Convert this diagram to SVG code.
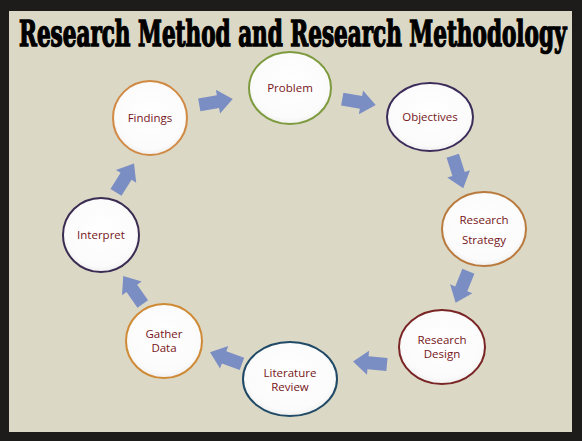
<svg xmlns="http://www.w3.org/2000/svg" xmlns:xlink="http://www.w3.org/1999/xlink" width="582" height="441" viewBox="0 0 582 441">
<defs>
<radialGradient id="fillG" cx="0.5" cy="0.45" r="0.55">
<stop offset="0" stop-color="#ffffff"/>
<stop offset="0.85" stop-color="#fcfbfb"/>
<stop offset="1" stop-color="#f1f0f0"/>
</radialGradient>
<path id="arr" d="M-17,-6.5 L2,-6.5 L2,-12 L17,0 L2,12 L2,6.5 L-17,6.5 Z"/>
<style>
.node ellipse{fill:url(#fillG);stroke-width:2}
.lbl{font-family:"Open Sans","DejaVu Sans",sans-serif;font-size:11.5px;fill:#761520;text-anchor:middle}
.arrows use{fill:#7b8ec3}
.title{font-family:"DejaVu Serif Condensed","DejaVu Serif",serif;font-weight:bold;font-size:25px;fill:#000;stroke:#000;stroke-width:1}
</style>
</defs>
<rect x="0" y="0" width="582" height="441" fill="#1e1c1a"/>
<rect x="9" y="11" width="563" height="421" fill="#dcd8c6"/>
<text class="title" transform="translate(19,46) scale(0.958,1.45)" x="0" y="0">Research Method and Research Methodology</text>
<g class="arrows" id="connectors">
<use xlink:href="#arr" transform="translate(216,102) rotate(-10)"/>
<use xlink:href="#arr" transform="translate(359,102) rotate(10)"/>
<use xlink:href="#arr" transform="translate(458,172) rotate(72)"/>
<use xlink:href="#arr" transform="translate(462,287) rotate(112)"/>
<use xlink:href="#arr" transform="translate(370,363) rotate(185)"/>
<use xlink:href="#arr" transform="translate(226,358) rotate(200)"/>
<use xlink:href="#arr" transform="translate(133,290) rotate(235)"/>
<use xlink:href="#arr" transform="translate(125,178) rotate(-58)"/>
</g>
<g class="node" id="problem"><ellipse cx="290" cy="88" rx="41" ry="36" stroke="#7d9b3e"/><text class="lbl" x="290" y="92">Problem</text></g>
<g class="node" id="objectives"><ellipse cx="430" cy="117" rx="43" ry="34" stroke="#3b2c5a"/><text class="lbl" x="430" y="121">Objectives</text></g>
<g class="node" id="research-strategy"><ellipse cx="484" cy="229" rx="42" ry="37" stroke="#b97a3e"/><text class="lbl" x="484" y="224">Research</text><text class="lbl" x="484" y="244">Strategy</text></g>
<g class="node" id="research-design"><ellipse cx="442" cy="347" rx="43" ry="37" stroke="#7a2525"/><text class="lbl" x="442" y="344">Research</text><text class="lbl" x="442" y="358">Design</text></g>
<g class="node" id="literature-review"><ellipse cx="290" cy="379" rx="47" ry="37" stroke="#214a66"/><text class="lbl" x="290" y="377">Literature</text><text class="lbl" x="290" y="391">Review</text></g>
<g class="node" id="gather-data"><ellipse cx="164" cy="341" rx="38" ry="37" stroke="#cf8a36"/><text class="lbl" x="164" y="338">Gather</text><text class="lbl" x="164" y="352">Data</text></g>
<g class="node" id="interpret"><ellipse cx="101" cy="235" rx="38" ry="37" stroke="#3a2c52"/><text class="lbl" x="101" y="239">Interpret</text></g>
<g class="node" id="findings"><ellipse cx="150" cy="118" rx="37" ry="37" stroke="#d08a44"/><text class="lbl" x="150" y="122">Findings</text></g>
</svg>
